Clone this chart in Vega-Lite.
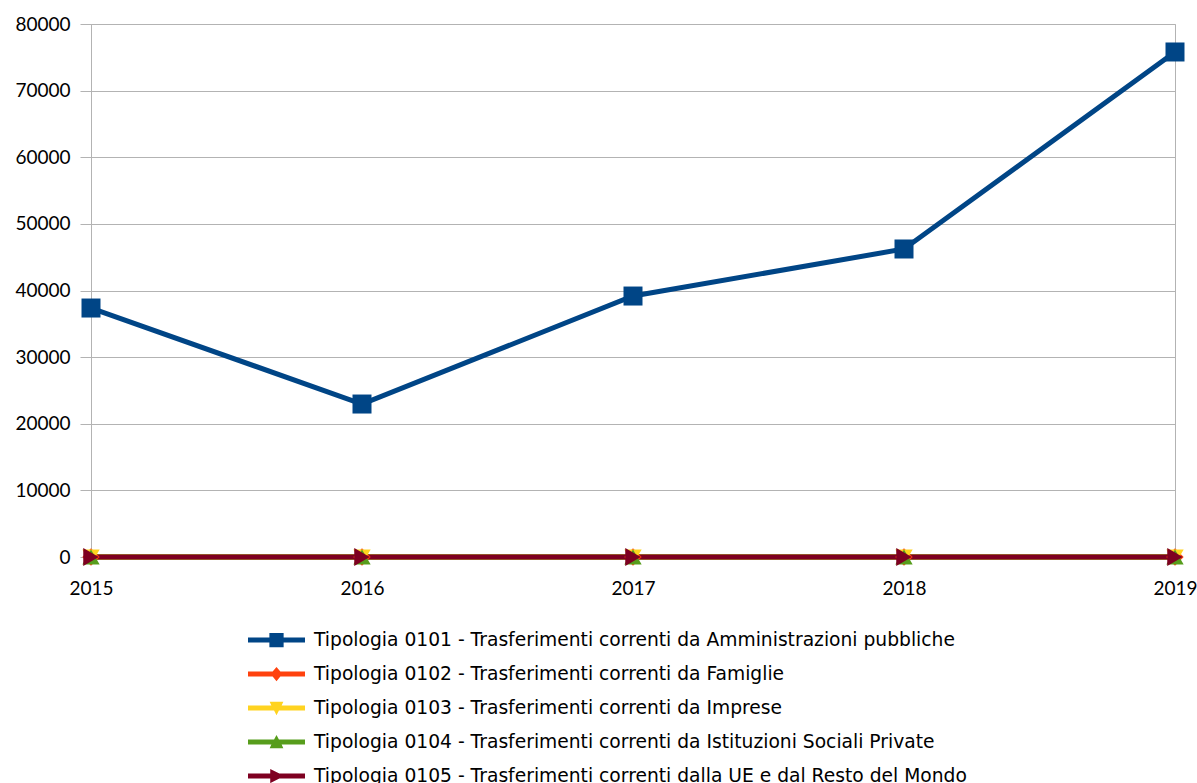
{
  "$schema": "https://vega.github.io/schema/vega-lite/v6.json",
  "width": 1084,
  "height": 533,
  "autosize": {"type": "none"},
  "padding": {"left": 91, "top": 24, "right": 22, "bottom": 226},
  "background": "white",
  "config": {
    "view": {"stroke": "#b3b3b3", "strokeWidth": 1},
    "font": "Lato",
    "axis": {"labelFont": "Lato", "labelFontSize": 19, "labelColor": "#000000", "gridColor": "#b3b3b3", "domainColor": "#b3b3b3", "tickColor": "#b3b3b3"}
  },
  "data": {
    "values": [
      {"year": 2015, "series": "Tipologia 0101 - Trasferimenti correnti da Amministrazioni pubbliche", "value": 37370},
      {"year": 2016, "series": "Tipologia 0101 - Trasferimenti correnti da Amministrazioni pubbliche", "value": 22960},
      {"year": 2017, "series": "Tipologia 0101 - Trasferimenti correnti da Amministrazioni pubbliche", "value": 39170},
      {"year": 2018, "series": "Tipologia 0101 - Trasferimenti correnti da Amministrazioni pubbliche", "value": 46230},
      {"year": 2019, "series": "Tipologia 0101 - Trasferimenti correnti da Amministrazioni pubbliche", "value": 75800},
      {"year": 2015, "series": "Tipologia 0102 - Trasferimenti correnti da Famiglie", "value": 0},
      {"year": 2016, "series": "Tipologia 0102 - Trasferimenti correnti da Famiglie", "value": 0},
      {"year": 2017, "series": "Tipologia 0102 - Trasferimenti correnti da Famiglie", "value": 0},
      {"year": 2018, "series": "Tipologia 0102 - Trasferimenti correnti da Famiglie", "value": 0},
      {"year": 2019, "series": "Tipologia 0102 - Trasferimenti correnti da Famiglie", "value": 0},
      {"year": 2015, "series": "Tipologia 0103 - Trasferimenti correnti da Imprese", "value": 0},
      {"year": 2016, "series": "Tipologia 0103 - Trasferimenti correnti da Imprese", "value": 0},
      {"year": 2017, "series": "Tipologia 0103 - Trasferimenti correnti da Imprese", "value": 0},
      {"year": 2018, "series": "Tipologia 0103 - Trasferimenti correnti da Imprese", "value": 0},
      {"year": 2019, "series": "Tipologia 0103 - Trasferimenti correnti da Imprese", "value": 0},
      {"year": 2015, "series": "Tipologia 0104 - Trasferimenti correnti da Istituzioni Sociali Private", "value": 0},
      {"year": 2016, "series": "Tipologia 0104 - Trasferimenti correnti da Istituzioni Sociali Private", "value": 0},
      {"year": 2017, "series": "Tipologia 0104 - Trasferimenti correnti da Istituzioni Sociali Private", "value": 0},
      {"year": 2018, "series": "Tipologia 0104 - Trasferimenti correnti da Istituzioni Sociali Private", "value": 0},
      {"year": 2019, "series": "Tipologia 0104 - Trasferimenti correnti da Istituzioni Sociali Private", "value": 0},
      {"year": 2015, "series": "Tipologia 0105 - Trasferimenti correnti dalla UE e dal Resto del Mondo", "value": 0},
      {"year": 2016, "series": "Tipologia 0105 - Trasferimenti correnti dalla UE e dal Resto del Mondo", "value": 0},
      {"year": 2017, "series": "Tipologia 0105 - Trasferimenti correnti dalla UE e dal Resto del Mondo", "value": 0},
      {"year": 2018, "series": "Tipologia 0105 - Trasferimenti correnti dalla UE e dal Resto del Mondo", "value": 0},
      {"year": 2019, "series": "Tipologia 0105 - Trasferimenti correnti dalla UE e dal Resto del Mondo", "value": 0}
    ]
  },
  "encoding": {
    "x": {
      "field": "year", "type": "quantitative",
      "scale": {"domain": [2015, 2019], "nice": false, "zero": false},
      "axis": {"title": null, "format": "d", "values": [2015, 2016, 2017, 2018, 2019], "grid": false, "domain": false, "tickSize": 6, "labelPadding": 16, "labelFlush": false}
    },
    "y": {
      "field": "value", "type": "quantitative",
      "scale": {"domain": [0, 80000], "nice": false},
      "axis": {"title": null, "values": [0, 10000, 20000, 30000, 40000, 50000, 60000, 70000, 80000], "format": "d", "tickSize": 11, "labelPadding": 10, "grid": true}
    },
    "color": {
      "field": "series", "type": "nominal",
      "scale": {
        "domain": [
          "Tipologia 0101 - Trasferimenti correnti da Amministrazioni pubbliche",
          "Tipologia 0102 - Trasferimenti correnti da Famiglie",
          "Tipologia 0103 - Trasferimenti correnti da Imprese",
          "Tipologia 0104 - Trasferimenti correnti da Istituzioni Sociali Private",
          "Tipologia 0105 - Trasferimenti correnti dalla UE e dal Resto del Mondo"
        ],
        "range": ["#004586", "#ff420e", "#ffd320", "#579d1c", "#7e0021"]
      },
      "legend": {
        "title": null,
        "orient": "none",
        "legendX": 157,
        "legendY": 604,
        "direction": "vertical",
        "columns": 1,
        "padding": 0,
        "clipHeight": 24,
        "rowPadding": 10,
        "symbolSize": 3249,
        "labelOffset": 9,
        "labelFont": "DejaVu Sans",
        "labelFontSize": 18.7,
        "labelColor": "#000000",
        "labelLimit": 900,
        "encode": {
          "symbols": {
            "update": {
              "shape": {"signal": "datum.value === 'Tipologia 0101 - Trasferimenti correnti da Amministrazioni pubbliche' ? 'M-1,-0.09L-0.25,-0.09L-0.25,-0.25L0.25,-0.25L0.25,-0.09L1,-0.09L1,0.09L0.25,0.09L0.25,0.25L-0.25,0.25L-0.25,0.09L-1,0.09Z' : datum.value === 'Tipologia 0102 - Trasferimenti correnti da Famiglie' ? 'M-1,-0.09L-0.135,-0.09L0,-0.25L0.135,-0.09L1,-0.09L1,0.09L0.135,0.09L0,0.25L-0.135,0.09L-1,0.09Z' : datum.value === 'Tipologia 0103 - Trasferimenti correnti da Imprese' ? 'M-1,-0.09L-0.18,-0.09L-0.24,-0.22L0.24,-0.22L0.18,-0.09L1,-0.09L1,0.09L0.085,0.09L0,0.25L-0.085,0.09L-1,0.09Z' : datum.value === 'Tipologia 0104 - Trasferimenti correnti da Istituzioni Sociali Private' ? 'M-1,0.09L-0.18,0.09L-0.24,0.22L0.24,0.22L0.18,0.09L1,0.09L1,-0.09L0.085,-0.09L0,-0.25L-0.085,-0.09L-1,-0.09Z' : 'M-1,-0.09L-0.22,-0.09L-0.22,-0.25L0.1,-0.09L1,-0.09L1,0.09L0.1,0.09L-0.22,0.25L-0.22,0.09L-1,0.09Z'"},
              "fill": {"signal": "scale('color', datum.value)"},
              "stroke": {"value": "transparent"},
              "strokeWidth": {"value": 0},
              "size": {"value": 3249},
              "opacity": {"value": 1},
              "fillOpacity": {"value": 1}
            }
          }
        }
      }
    }
  },
  "layer": [
    {
      "mark": {"type": "line", "strokeWidth": 5, "strokeJoin": "miter"}
    },
    {
      "transform": [{"filter": {"field": "series", "equal": "Tipologia 0101 - Trasferimenti correnti da Amministrazioni pubbliche"}}],
      "mark": {"type": "point", "shape": "square", "filled": true, "opacity": 1, "size": 361, "strokeWidth": 0}
    },
    {
      "transform": [{"filter": {"field": "series", "equal": "Tipologia 0102 - Trasferimenti correnti da Famiglie"}}],
      "mark": {"type": "point", "shape": "diamond", "filled": true, "opacity": 1, "size": 300, "strokeWidth": 0}
    },
    {
      "transform": [{"filter": {"field": "series", "equal": "Tipologia 0103 - Trasferimenti correnti da Imprese"}}],
      "mark": {"type": "point", "shape": "triangle-down", "filled": true, "opacity": 1, "size": 300, "strokeWidth": 0}
    },
    {
      "transform": [{"filter": {"field": "series", "equal": "Tipologia 0104 - Trasferimenti correnti da Istituzioni Sociali Private"}}],
      "mark": {"type": "point", "shape": "triangle-up", "filled": true, "opacity": 1, "size": 300, "strokeWidth": 0}
    },
    {
      "transform": [{"filter": {"field": "series", "equal": "Tipologia 0105 - Trasferimenti correnti dalla UE e dal Resto del Mondo"}}],
      "mark": {"type": "point", "shape": "triangle-right", "filled": true, "opacity": 1, "size": 320, "strokeWidth": 0}
    }
  ]
}
